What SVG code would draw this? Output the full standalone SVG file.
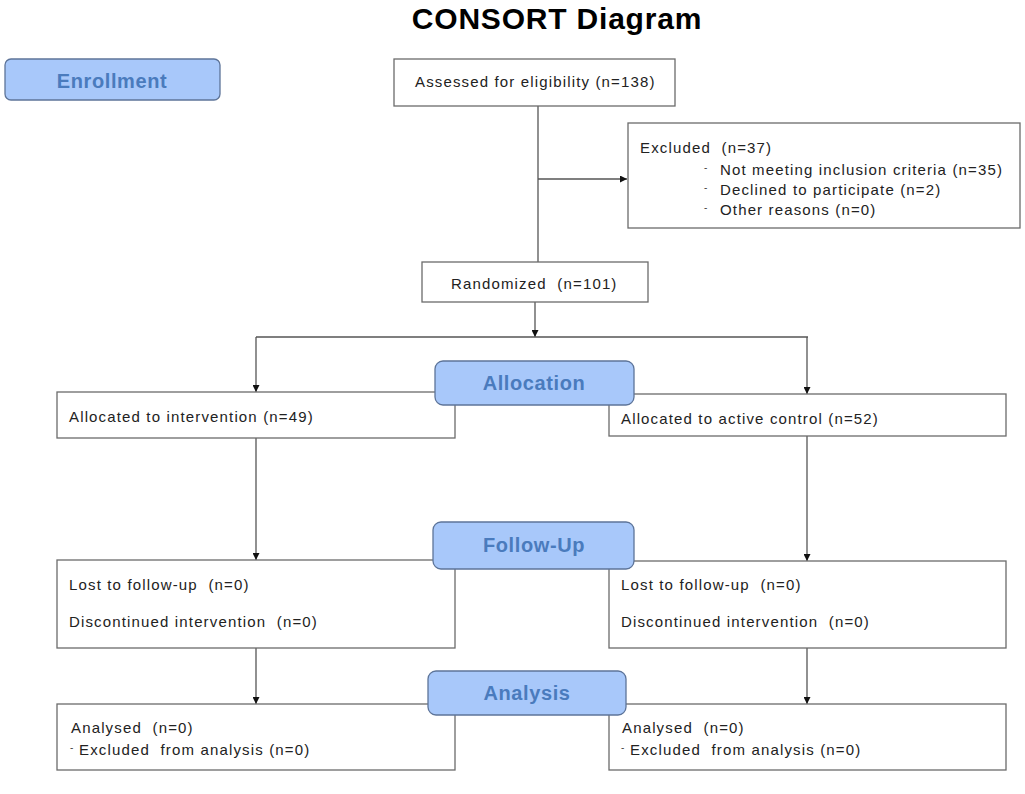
<svg xmlns="http://www.w3.org/2000/svg" width="1025" height="794" viewBox="0 0 1025 794" xml:space="preserve">
<defs>
<style>
.box{fill:#fff;stroke:#6b6b6b;stroke-width:1.3}
.phase{fill:#a8c8fa;stroke:#5d7499;stroke-width:1.3}
text{white-space:pre}
.t{font-family:"Liberation Sans",Arial,sans-serif;font-size:15px;fill:#222;letter-spacing:1.15px}
.d{font-family:"Liberation Sans",Arial,sans-serif;font-size:10px;fill:#444}
.ph{font-family:"Liberation Sans",Arial,sans-serif;font-size:20px;font-weight:bold;fill:#4a7bbd;text-anchor:middle;letter-spacing:0.6px}
.title{font-family:"Liberation Sans",Arial,sans-serif;font-size:30px;font-weight:bold;fill:#000;text-anchor:middle;letter-spacing:0.8px}
.ln{fill:none;stroke:#555;stroke-width:1.3}
</style>
<marker id="ah" viewBox="0 0 10 10" refX="10" refY="5" markerWidth="7" markerHeight="7" orient="auto" markerUnits="userSpaceOnUse">
<path d="M0,0 L10,5 L0,10 z" fill="#111"/>
</marker>
</defs>
<rect width="1025" height="794" fill="#fff"/>
<text class="title" x="557" y="29">CONSORT Diagram</text>
<g id="connectors">
<path class="ln" d="M538,106 V262"/>
<path class="ln" d="M538,179 H627" marker-end="url(#ah)"/>
<path class="ln" d="M535,302 V337" marker-end="url(#ah)"/>
<path class="ln" d="M256,337 H808"/>
<path class="ln" d="M256,337 V392" marker-end="url(#ah)"/>
<path class="ln" d="M807,337 V394" marker-end="url(#ah)"/>
<path class="ln" d="M256,438 V560" marker-end="url(#ah)"/>
<path class="ln" d="M807,436 V561" marker-end="url(#ah)"/>
<path class="ln" d="M256,648 V704" marker-end="url(#ah)"/>
<path class="ln" d="M807,648 V704" marker-end="url(#ah)"/>
</g>
<g id="enrollment">
<rect class="phase" x="5" y="59" width="215" height="41" rx="6"/>
<text class="ph" x="112" y="88">Enrollment</text>
</g>
<g id="assessed">
<rect class="box" x="394" y="59" width="281" height="47"/>
<text class="t" x="415" y="87">Assessed for eligibility (n=138)</text>
</g>
<g id="excluded">
<rect class="box" x="628" y="123" width="392" height="105"/>
<text class="t" x="640" y="153">Excluded  (n=37)</text>
<text class="d" x="704" y="171">-</text>
<text class="t" x="720" y="175">Not meeting inclusion criteria (n=35)</text>
<text class="d" x="704" y="191">-</text>
<text class="t" x="720" y="195">Declined to participate (n=2)</text>
<text class="d" x="704" y="211">-</text>
<text class="t" x="720" y="215">Other reasons (n=0)</text>
</g>
<g id="randomized">
<rect class="box" x="422" y="262" width="226" height="40"/>
<text class="t" x="451" y="289">Randomized  (n=101)</text>
</g>
<g id="alloc-left">
<rect class="box" x="57" y="392" width="398" height="46"/>
<text class="t" x="69" y="422">Allocated to intervention (n=49)</text>
</g>
<g id="alloc-right">
<rect class="box" x="609" y="394" width="397" height="42"/>
<text class="t" x="621" y="424">Allocated to active control (n=52)</text>
</g>
<g id="allocation">
<rect class="phase" x="435" y="361" width="199" height="44" rx="8"/>
<text class="ph" x="534" y="390">Allocation</text>
</g>
<g id="followup-left">
<rect class="box" x="57" y="560" width="398" height="88"/>
<text class="t" x="69" y="590">Lost to follow-up  (n=0)</text>
<text class="t" x="69" y="627">Discontinued intervention  (n=0)</text>
</g>
<g id="followup-right">
<rect class="box" x="609" y="561" width="397" height="87"/>
<text class="t" x="621" y="590">Lost to follow-up  (n=0)</text>
<text class="t" x="621" y="627">Discontinued intervention  (n=0)</text>
</g>
<g id="followup">
<rect class="phase" x="433" y="522" width="201" height="47" rx="8"/>
<text class="ph" x="534" y="552">Follow-Up</text>
</g>
<g id="analysed-left">
<rect class="box" x="57" y="704" width="398" height="66"/>
<text class="t" x="71" y="733">Analysed  (n=0)</text>
<text class="d" x="70" y="751">-</text>
<text class="t" x="79" y="755">Excluded  from analysis (n=0)</text>
</g>
<g id="analysed-right">
<rect class="box" x="609" y="704" width="397" height="66"/>
<text class="t" x="622" y="733">Analysed  (n=0)</text>
<text class="d" x="621" y="751">-</text>
<text class="t" x="630" y="755">Excluded  from analysis (n=0)</text>
</g>
<g id="analysis">
<rect class="phase" x="428" y="671" width="198" height="44" rx="8"/>
<text class="ph" x="527" y="700">Analysis</text>
</g>
</svg>
